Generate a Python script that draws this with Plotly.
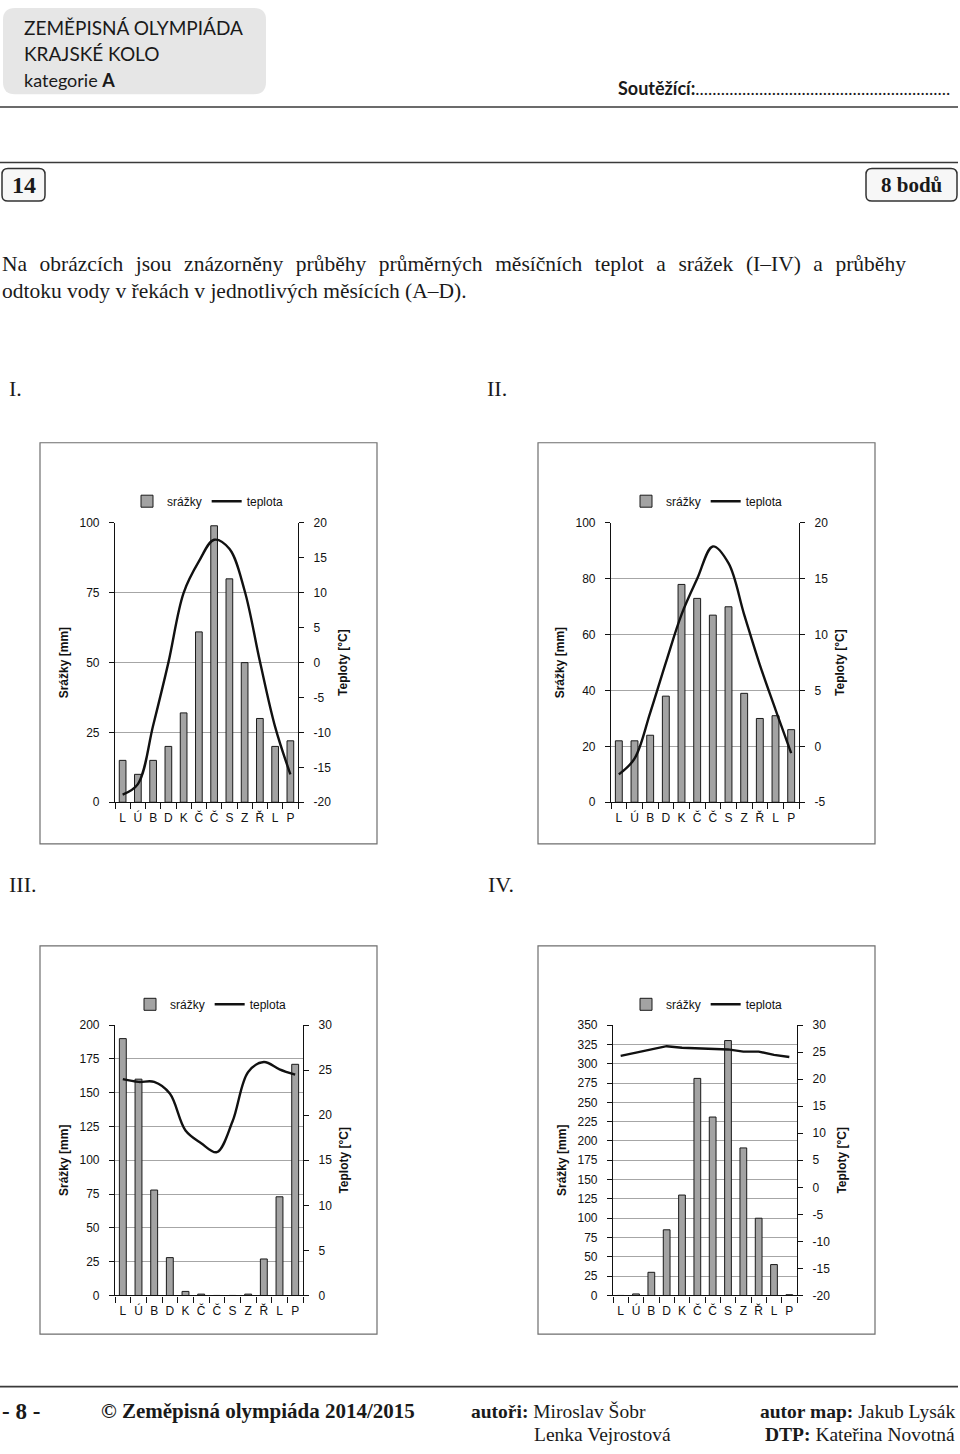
import plotly.graph_objects as go

W, H = 960, 1454

# ---------------- data ----------------
months = ["L", "Ú", "B", "D", "K", "Č", "Č", "S", "Z", "Ř", "L", "P"]

precip_I = [15, 10, 15, 20, 32, 61, 99, 80, 50, 30, 20, 22]
temp_I = [-18.9, -17.4, -9.0, 0.0, 10.0, 14.5, 17.6, 16.3, 10.3, 0.2, -9.2, -16.0]

precip_II = [22, 22, 24, 38, 78, 73, 67, 70, 39, 30, 31, 26]
temp_II = [-2.5, -1.1, 3.0, 7.5, 11.8, 15.0, 17.9, 16.4, 11.8, 7.3, 3.3, -0.6]

precip_III = [190, 160, 78, 28, 3, 1, 0, 0, 1, 27, 73, 171]
temp_III = [24.0, 23.7, 23.7, 22.4, 18.3, 16.9, 15.9, 19.3, 24.8, 25.9, 25.1, 24.5]

precip_IV = [0, 2, 30, 85, 130, 281, 231, 330, 191, 100, 40, 1]
temp_IV = [24.3, 24.9, 25.5, 26.1, 25.8, 25.7, 25.6, 25.5, 25.1, 25.1, 24.5, 24.1]

precip_ranges = [(0, 100, 25), (0, 100, 20), (0, 200, 25), (0, 350, 25)]
temp_ranges = [(-20, 20, 5), (-5, 20, 5), (0, 30, 5), (-20, 30, 5)]
line_shapes = ["spline", "spline", "spline", "linear"]

bar_name = "srážky"
line_name = "teplota"
y_left_title = "Srážky [mm]"
y_right_title = "Teploty [°C]"

# ---------------- layout geometry (px) ----------------
plot_boxes = [  # x0, x1, ytop, ybottom of plotting area
    (115, 298, 521, 803),
    (611, 799, 521, 803),
    (115, 303, 1028, 1301),
    (613, 797, 1028, 1301),
]
frames = [(40, 377, 440, 845), (538, 875, 440, 845), (40, 377, 948, 1340), (538, 875, 948, 1340)]
legend_pos = [(127, 499), (626, 499), (130, 1007), (626, 1007)]


def px(x):
    return x / W


def py(y):
    return 1 - y / H


SANS = "Liberation Sans, Arial, sans-serif"
SERIF = "Liberation Serif, Times New Roman, serif"
HEAD = "Lato, Noto Sans, sans-serif"

fig = go.Figure()
x_idx = list(range(len(months)))
boundaries = [i - 0.5 for i in range(len(months) + 1)]

datasets = [
    (precip_I, temp_I),
    (precip_II, temp_II),
    (precip_III, temp_III),
    (precip_IV, temp_IV),
]


def ticks_for(lo, hi, st):
    vals = list(range(lo, hi + 1, st))
    return vals, [str(v) for v in vals]  # plain hyphen minus, as in the original


layout_axes = {}
legends = {}
for k, (prec, temp) in enumerate(datasets):
    n = k + 1
    xa = "x" if n == 1 else f"x{n}"
    yl_i = 2 * k + 1
    yr_i = 2 * k + 2
    yl = "y" if yl_i == 1 else f"y{yl_i}"
    yr = f"y{yr_i}"
    leg = "legend" if n == 1 else f"legend{n}"

    fig.add_trace(go.Bar(
        x=x_idx, y=prec, name=bar_name, xaxis=xa, yaxis=yl, legend=leg,
        marker=dict(color="#a3a3a3", line=dict(color="#1a1a1a", width=1)),
        width=0.44, hoverinfo="y",
    ))
    fig.add_trace(go.Scatter(
        x=x_idx, y=temp, name=line_name, xaxis=xa, yaxis=yr, legend=leg,
        mode="lines", line=dict(color="#111111", width=2.4, shape=line_shapes[k], smoothing=1.0),
    ))

    x0, x1, yt, yb = plot_boxes[k]
    xkey = "xaxis" if n == 1 else f"xaxis{n}"
    ylkey = "yaxis" if yl_i == 1 else f"yaxis{yl_i}"
    yrkey = f"yaxis{yr_i}"

    layout_axes[xkey] = dict(
        domain=[px(x0), px(x1)], anchor=yl, range=[-0.5, len(months) - 0.5],
        tickmode="array", tickvals=x_idx, ticktext=months, ticks="",
        showline=True, linecolor="#111111", linewidth=1.2, showgrid=False, zeroline=False,
        tickfont=dict(family=SANS, size=12, color="#111111"), ticklabelstandoff=4,
        minor=dict(tickmode="array", tickvals=boundaries, ticks="outside", ticklen=6,
                   tickcolor="#111111", tickwidth=1, showgrid=False),
        fixedrange=True,
    )
    lo, hi, st = precip_ranges[k]
    tv, tt = ticks_for(lo, hi, st)
    layout_axes[ylkey] = dict(
        domain=[py(yb), py(yt)], anchor=xa, range=[lo, hi],
        tickmode="array", tickvals=tv, ticktext=tt,
        showline=True, linecolor="#111111", linewidth=1.2,
        ticks="outside", ticklen=5, tickcolor="#111111",
        showgrid=True, gridcolor="#a6a6a6", gridwidth=1, zeroline=False,
        tickfont=dict(family=SANS, size=12, color="#111111"), ticklabelstandoff=7,
        title=dict(text=f"<b>{y_left_title}</b>", font=dict(family=SANS, size=12, color="#111111"), standoff=8),
        fixedrange=True,
    )
    lo, hi, st = temp_ranges[k]
    tv, tt = ticks_for(lo, hi, st)
    layout_axes[yrkey] = dict(
        domain=[py(yb), py(yt)], anchor=xa, overlaying=yl, side="right", range=[lo, hi],
        tickmode="array", tickvals=tv, ticktext=tt,
        showline=True, linecolor="#111111", linewidth=1.2,
        ticks="outside", ticklen=5, tickcolor="#111111",
        showgrid=False, zeroline=False,
        tickfont=dict(family=SANS, size=12, color="#111111"), ticklabelstandoff=7,
        title=dict(text=f"<b>{y_right_title}</b>", font=dict(family=SANS, size=12, color="#111111"), standoff=8),
        fixedrange=True,
    )
    lx, ly = legend_pos[k]
    legends[leg] = dict(
        orientation="h", x=px(lx), y=py(ly), xanchor="left", yanchor="middle",
        font=dict(family=SANS, size=12, color="#111111"), bgcolor="rgba(0,0,0,0)",
        itemwidth=30, tracegroupgap=0, itemclick=False, itemdoubleclick=False,
    )

shapes = []
# chart frames
for (x0, x1, y0, y1) in frames:
    shapes.append(dict(type="rect", xref="paper", yref="paper", x0=px(x0), x1=px(x1),
                       y0=py(y1), y1=py(y0), line=dict(color="#6e6e6e", width=1.2), layer="below"))


def rounded(x0, y0, x1, y1, r):
    rx, ry = r / W, r / H
    X0, X1, Y0, Y1 = px(x0), px(x1), py(y1), py(y0)
    return (f"M{X0+rx},{Y1} L{X1-rx},{Y1} Q{X1},{Y1} {X1},{Y1-ry} "
            f"L{X1},{Y0+ry} Q{X1},{Y0} {X1-rx},{Y0} L{X0+rx},{Y0} "
            f"Q{X0},{Y0} {X0},{Y0+ry} L{X0},{Y1-ry} Q{X0},{Y1} {X0+rx},{Y1} Z")


# header grey box
shapes.append(dict(type="path", xref="paper", yref="paper", path=rounded(3, 1, 266, 88, 12),
                   fillcolor="#e6e6e6", line=dict(width=0), layer="below"))
# horizontal rules
for yy in (101, 157, 1393):
    shapes.append(dict(type="line", xref="paper", yref="paper", x0=0, x1=px(958), y0=py(yy), y1=py(yy),
                       line=dict(color="#3a3a3a", width=1.6)))
# number boxes
shapes.append(dict(type="path", xref="paper", yref="paper", path=rounded(2, 163, 45, 196, 6),
                   fillcolor="#f7f7f7", line=dict(color="#333333", width=1.5)))
shapes.append(dict(type="path", xref="paper", yref="paper", path=rounded(866, 163, 957, 196, 6),
                   fillcolor="#f7f7f7", line=dict(color="#333333", width=1.5)))

ann = []


def text(x, y, s, size, family, xanchor="left", color="#1a1a1a"):
    ann.append(dict(xref="paper", yref="paper", x=px(x), y=py(y), text=s, showarrow=False,
                    xanchor=xanchor, yanchor="middle", font=dict(family=family, size=size, color=color)))


SP = " \u2004"  # widened word gap: first paragraph line is justified in the original
line1 = SP.join("Na obrázcích jsou znázorněny průběhy průměrných měsíčních teplot a srážek (I–IV) a průběhy".split(" "))

text(22, 21, "ZEMĚPISNÁ OLYMPIÁDA", 19, HEAD)
text(22, 47, "KRAJSKÉ KOLO", 19, HEAD)
text(22, 74, "kategorie <b>A</b>", 18, HEAD)
text(616, 82, "<b>Soutěžící:</b>" + "." * 60, 18, HEAD)
text(23.5, 180, "<b>14</b>", 24, SERIF, xanchor="center")
text(911.5, 180, "<b>8 bodů</b>", 21, SERIF, xanchor="center")
text(0, 259, line1, 21.5, SERIF)
text(0, 287, "odtoku vody v řekách v jednotlivých měsících (A–D).", 21.5, SERIF)
text(7, 385, "I.", 22, SERIF)
text(485, 385, "II.", 22, SERIF)
text(7, 886, "III.", 22, SERIF)
text(486, 886, "IV.", 22, SERIF)
text(0, 1418, "<b>- 8 -</b>", 23, SERIF)
text(99, 1418, "<b>© Zeměpisná olympiáda 2014/2015</b>", 21, SERIF)
text(469, 1418, "<b>autoři:</b> Miroslav Šobr", 19.5, SERIF)
text(532, 1441, "Lenka Vejrostová", 19.5, SERIF)
text(957, 1418, "<b>autor map:</b> Jakub Lysák", 19.5, SERIF, xanchor="right")
text(957, 1441, "<b>DTP:</b> Kateřina Novotná", 19.5, SERIF, xanchor="right")

fig.update_layout(
    width=W, height=H, margin=dict(l=0, r=0, t=0, b=0),
    paper_bgcolor="white", plot_bgcolor="white",
    bargap=0.5, showlegend=True,
    shapes=shapes, annotations=ann,
    **layout_axes, **legends,
)

fig.write_html("out.html", config={"displayModeBar": False},
               post_script="document.body.style.margin='0px';document.body.style.overflow='hidden';")
